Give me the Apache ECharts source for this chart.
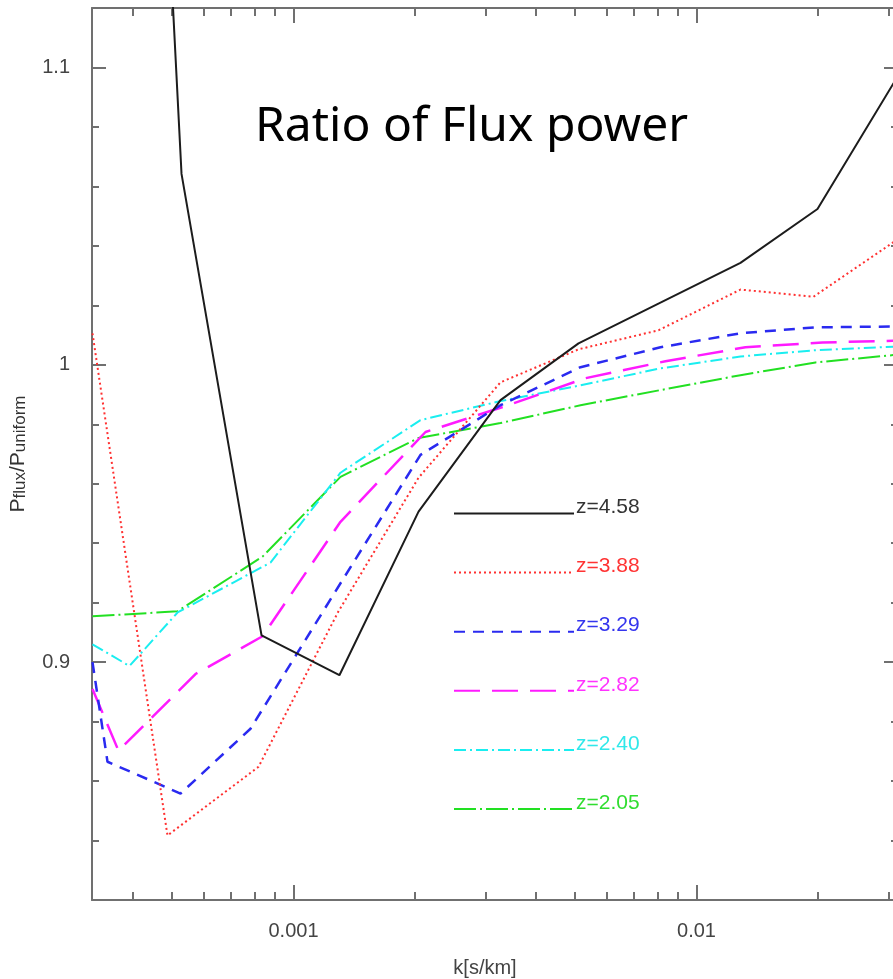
<!DOCTYPE html>
<html>
<head>
<meta charset="utf-8">
<script src="https://cdn.jsdelivr.net/npm/echarts@6/dist/echarts.min.js"></script>
<style>
  html, body { margin: 0; padding: 0; background: #fff; }
  #chart { width: 893px; height: 979px; }
</style>
</head>
<body>
<div id="chart"></div>
<script>
// Wavenumber samples k [s/km] and flux-power ratios for each redshift
const k_z458 = [3.339e-4, 5.274e-4, 8.331e-4, 1.300e-3, 2.043e-3, 3.263e-3, 5.096e-3, 8.139e-3, 0.012855, 0.019963, 0.03245];
const ratio_z458 = [1.59, 1.0642, 0.9090, 0.8956, 0.9506, 0.9881, 1.0072, 1.0209, 1.0343, 1.0524, 1.0997];

const k_z388 = [3.171e-4, 4.867e-4, 8.189e-4, 1.293e-3, 2.043e-3, 3.263e-3, 5.096e-3, 8.046e-3, 0.012855, 0.019512, 0.031176];
const ratio_z388 = [1.0106, 0.8417, 0.8648, 0.9171, 0.9620, 0.9941, 1.0052, 1.0116, 1.0253, 1.0229, 1.0417];

const k_z329 = [3.171e-4, 3.455e-4, 5.244e-4, 7.821e-4, 1.271e-3, 2.066e-3, 3.263e-3, 5.155e-3, 8.139e-3, 0.012855, 0.019738, 0.032075];
const ratio_z329 = [0.9000, 0.8665, 0.8558, 0.8776, 0.9238, 0.9697, 0.9864, 0.9992, 1.0059, 1.0106, 1.0126, 1.0129];

const k_z282 = [3.171e-4, 3.679e-4, 5.712e-4, 8.379e-4, 1.308e-3, 2.126e-3, 3.358e-3, 5.304e-3, 8.375e-3, 0.013228, 0.020544, 0.03300];
const ratio_z282 = [0.8910, 0.8702, 0.8960, 0.9087, 0.9472, 0.9774, 0.9861, 0.9955, 1.0012, 1.0059, 1.0075, 1.0082];

const k_z240 = [3.171e-4, 3.917e-4, 5.156e-4, 8.768e-4, 1.308e-3, 2.066e-3, 3.263e-3, 5.155e-3, 8.139e-3, 0.012855, 0.019738, 0.032075];
const ratio_z240 = [0.9060, 0.8987, 0.9167, 0.9335, 0.9637, 0.9814, 0.9878, 0.9931, 0.9988, 1.0028, 1.0049, 1.0062];

const k_z205 = [3.171e-4, 5.156e-4, 8.379e-4, 1.308e-3, 2.043e-3, 3.263e-3, 5.155e-3, 8.139e-3, 0.012855, 0.019738, 0.032075];
const ratio_z205 = [0.9154, 0.9171, 0.9355, 0.9623, 0.9754, 0.9804, 0.9864, 0.9915, 0.9965, 1.0008, 1.0035];

const seriesNames = ['z=4.58', 'z=3.88', 'z=3.29', 'z=2.82', 'z=2.40', 'z=2.05'];

// Axis ticks and labels
const xMajorTicks = [0.001, 0.01];
const xMinorTicks = [4e-4, 5e-4, 6e-4, 7e-4, 8e-4, 9e-4, 2e-3, 3e-3, 4e-3, 5e-3, 6e-3, 7e-3, 8e-3, 9e-3, 2e-2, 3e-2];
const yMajorTicks = [0.9, 1, 1.1];
const yMinorTicks = [0.84, 0.86, 0.88, 0.92, 0.94, 0.96, 0.98, 1.02, 1.04, 1.06, 1.08, 1.12];

const kSets = [k_z458, k_z388, k_z329, k_z282, k_z240, k_z205];
const ratioSets = [ratio_z458, ratio_z388, ratio_z329, ratio_z282, ratio_z240, ratio_z205];

const lineColors = ['#1c1c1c', '#ff3030', '#2a2af0', '#ff1aff', '#1aeef0', '#22e022'];
const textColors = ['#333333', '#ff3333', '#3535ee', '#ff33ff', '#30e8ea', '#30dd30'];
const dashes = ['solid', [2, 3], [11, 8], [26, 12], [12, 4, 2, 4], [22, 4, 2, 4]];
const widths = [2, 2, 2.5, 2.5, 2, 2];

const AXIS_COLOR = '#707070';
const FONT = 'Liberation Sans, Arial, sans-serif';
const X_MIN = Math.pow(10, -3.5);
const X_MAX = Math.pow(10, -1.5);

function pairs(ks, vs) {
  return ks.map((k, i) => [k, vs[i]]);
}

function xAxisDef(pos, ticks, len, showLine, showLabel) {
  return {
    type: 'log', logBase: 10, gridIndex: 0, position: pos,
    min: X_MIN, max: X_MAX,
    axisLine: { show: showLine, lineStyle: { color: AXIS_COLOR, width: 2 } },
    axisTick: { show: true, inside: true, length: len, customValues: ticks,
                lineStyle: { color: AXIS_COLOR, width: 2 } },
    axisLabel: { show: showLabel, customValues: xMajorTicks, margin: 21,
                 fontFamily: FONT, fontSize: 20, color: '#444',
                 formatter: v => String(+v.toPrecision(3)) },
    splitLine: { show: false }, minorTick: { show: false }
  };
}

function yAxisDef(pos, ticks, len, showLine, showLabel) {
  return {
    type: 'value', gridIndex: 0, position: pos,
    min: 0.82, max: 1.12,
    axisLine: { show: showLine, lineStyle: { color: AXIS_COLOR, width: 2 } },
    axisTick: { show: true, inside: true, length: len, customValues: ticks,
                lineStyle: { color: AXIS_COLOR, width: 2 } },
    axisLabel: { show: showLabel, customValues: yMajorTicks, margin: 22,
                 fontFamily: FONT, fontSize: 20, color: '#444',
                 formatter: v => String(+v.toFixed(2)) },
    splitLine: { show: false }
  };
}

const xAxes = [
  xAxisDef('bottom', xMajorTicks, 15, true, true),
  xAxisDef('bottom', xMinorTicks, 8, false, false),
  xAxisDef('top', xMajorTicks, 15, true, false),
  xAxisDef('top', xMinorTicks, 8, false, false)
];
xAxes[0].name = 'k[s/km]';
xAxes[0].nameLocation = 'middle';
xAxes[0].nameGap = 58;
xAxes[0].nameTextStyle = { fontFamily: FONT, fontSize: 20, color: '#444', padding: [0, 20, 0, 0] };

const yAxes = [
  yAxisDef('left', yMajorTicks, 14, true, true),
  yAxisDef('left', yMinorTicks, 7, false, false),
  yAxisDef('right', yMajorTicks, 14, true, false),
  yAxisDef('right', yMinorTicks, 7, false, false)
];
yAxes[0].name = '{p|P}{s|flux}{p|/P}{s|uniform}';
yAxes[0].nameLocation = 'middle';
yAxes[0].nameGap = 63;
yAxes[0].nameTextStyle = {
  color: '#333',
  rich: {
    p: { fontFamily: FONT, fontSize: 21, color: '#333', lineHeight: 24, verticalAlign: 'bottom' },
    s: { fontFamily: FONT, fontSize: 17, color: '#333', lineHeight: 18, verticalAlign: 'bottom', padding: [8, 0, 0, 0] }
  }
};

const series = seriesNames.map((name, i) => ({
  name: name,
  type: 'line',
  xAxisIndex: 0, yAxisIndex: 0,
  data: pairs(kSets[i], ratioSets[i]),
  showSymbol: false, symbol: 'none',
  clip: true,
  silent: true,
  animation: false,
  lineStyle: { color: lineColors[i], width: widths[i], type: dashes[i] },
  itemStyle: { color: lineColors[i] },
  z: 10 - i
}));

const chart = echarts.init(document.getElementById('chart'), null, { renderer: 'canvas' });
chart.setOption({
  animation: false,
  backgroundColor: '#ffffff',
  title: {
    text: 'Ratio of Flux power',
    left: 250, top: 98,
    textStyle: { fontFamily: 'Noto Sans, sans-serif', fontSize: 48, fontWeight: 'normal', color: '#000' }
  },
  grid: { left: 92, top: 8, width: 806, height: 892, outerBoundsMode: 'none', containLabel: false },
  xAxis: xAxes,
  yAxis: yAxes,
  legend: {
    orient: 'vertical',
    left: 453, top: 497,
    padding: 0,
    itemWidth: 120, itemHeight: 14, itemGap: 37,
    selectedMode: false,
    itemStyle: { color: 'rgba(0,0,0,0)', borderWidth: 0, opacity: 0 },
    formatter: name => '{t|' + name + '}',
    data: seriesNames.map((n, i) => ({
      name: n,
      textStyle: { color: textColors[i], fontFamily: FONT, fontSize: 21 }
    })),
    textStyle: {
      fontFamily: FONT, fontSize: 21,
      rich: { t: { fontFamily: FONT, fontSize: 21, padding: [0, 0, 12, -3] } }
    }
  },
  series: series
});
</script>
</body>
</html>
